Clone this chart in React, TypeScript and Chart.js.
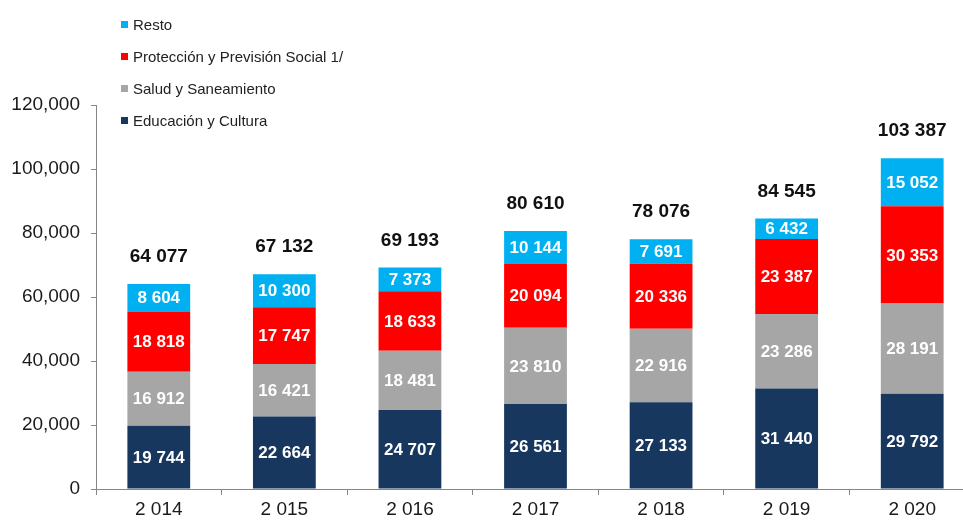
import React, { useEffect, useRef } from "react";
import { Chart, registerables } from "chart.js";

Chart.register(...registerables);

const categories = ["2 014", "2 015", "2 016", "2 017", "2 018", "2 019", "2 020"];
const educacion = [19744, 22664, 24707, 26561, 27133, 31440, 29792];
const salud = [16912, 16421, 18481, 23810, 22916, 23286, 28191];
const proteccion = [18818, 17747, 18633, 20094, 20336, 23387, 30353];
const resto = [8604, 10300, 7373, 10144, 7691, 6432, 15052];
const totals = [64077, 67132, 69193, 80610, 78076, 84545, 103387];
const seriesLabels = ["Educación y Cultura", "Salud y Saneamiento", "Protección y Previsión Social 1/", "Resto"];
const seriesColors = ["#17375E", "#A6A6A6", "#FF0000", "#00B0F0"];
const yMin = 0;
const yMax = 120000;
const yStep = 20000;

const FONT = "'Liberation Sans', Arial, sans-serif";
const spaced = (v: number) => String(v).replace(/\B(?=(\d{3})+(?!\d))/g, " ");
const commas = (v: number) => String(v).replace(/\B(?=(\d{3})+(?!\d))/g, ",");

const labelsPlugin = {
  id: "segLabels",
  afterDatasetsDraw(chart: any) {
    const ctx = chart.ctx;
    ctx.save();
    ctx.textAlign = "center";
    ctx.textBaseline = "middle";
    ctx.font = `bold 17px ${FONT}`;
    ctx.fillStyle = "#FFFFFF";
    chart.data.datasets.forEach((ds: any, di: number) => {
      const meta = chart.getDatasetMeta(di);
      meta.data.forEach((el: any, i: number) => {
        const y = (el.y + el.base) / 2;
        ctx.fillText(spaced(ds.data[i]), el.x, y + 1);
      });
    });
    const topMeta = chart.getDatasetMeta(chart.data.datasets.length - 1);
    ctx.font = `bold 19px ${FONT}`;
    ctx.fillStyle = "#111111";
    topMeta.data.forEach((el: any, i: number) => {
      ctx.fillText(spaced(totals[i]), el.x, el.y - 27);
    });
    ctx.restore();
  },
};

const legendPlugin = {
  id: "sideLegend",
  afterDraw(chart: any) {
    const ctx = chart.ctx;
    ctx.save();
    ctx.textAlign = "left";
    ctx.textBaseline = "middle";
    ctx.font = `15px ${FONT}`;
    const n = chart.data.datasets.length;
    for (let k = 0; k < n; k++) {
      const ds = chart.data.datasets[n - 1 - k];
      const y = 24.5 + k * 32;
      ctx.fillStyle = ds.backgroundColor;
      ctx.fillRect(121, y - 3.5, 7, 7);
      ctx.fillStyle = "#222222";
      ctx.fillText(ds.label, 133, y + 1);
    }
    ctx.restore();
  },
};

export default function App() {
  const ref = useRef<HTMLCanvasElement>(null);
  useEffect(() => {
    if (!ref.current) return;
    const series = [educacion, salud, proteccion, resto];
    const chart = new Chart(ref.current, {
      type: "bar",
      data: {
        labels: categories,
        datasets: series.map((d, i) => ({
          label: seriesLabels[i],
          data: d,
          backgroundColor: seriesColors[i],
          borderWidth: 0,
          barPercentage: 0.5,
          categoryPercentage: 1,
        })),
      },
      options: {
        responsive: false,
        animation: false,
        devicePixelRatio: 1,
        layout: { padding: { top: 105, right: 15, left: 0, bottom: 0 } },
        plugins: { legend: { display: false }, tooltip: { enabled: false } },
        scales: {
          x: {
            stacked: true,
            offset: true,
            grid: { drawOnChartArea: false, tickLength: 6, color: "#868686", offset: true },
            border: { color: "#868686", width: 1 },
            ticks: { color: "#1A1A1A", font: { family: FONT, size: 19 }, padding: 3 },
            afterFit(scale: any) { scale.height = 32; },
          },
          y: {
            stacked: true,
            min: yMin,
            max: yMax,
            grid: { drawOnChartArea: false, tickLength: 5, color: "#868686" },
            border: { color: "#868686", width: 1 },
            ticks: {
              stepSize: yStep,
              color: "#1A1A1A",
              font: { family: FONT, size: 19 },
              padding: 11,
              callback: (v: any) => commas(Number(v)),
            },
            afterFit(scale: any) { scale.width = 96; },
          },
        },
      },
      plugins: [labelsPlugin, legendPlugin],
    });
    return () => chart.destroy();
  }, []);
  return (
    <div style={{ position: "fixed", left: 0, top: 0, width: 963, height: 521, overflow: "hidden", background: "#fff" }}>
      <canvas ref={ref} width={990} height={521} style={{ width: 990, height: 521, display: "block" }} />
    </div>
  );
}
